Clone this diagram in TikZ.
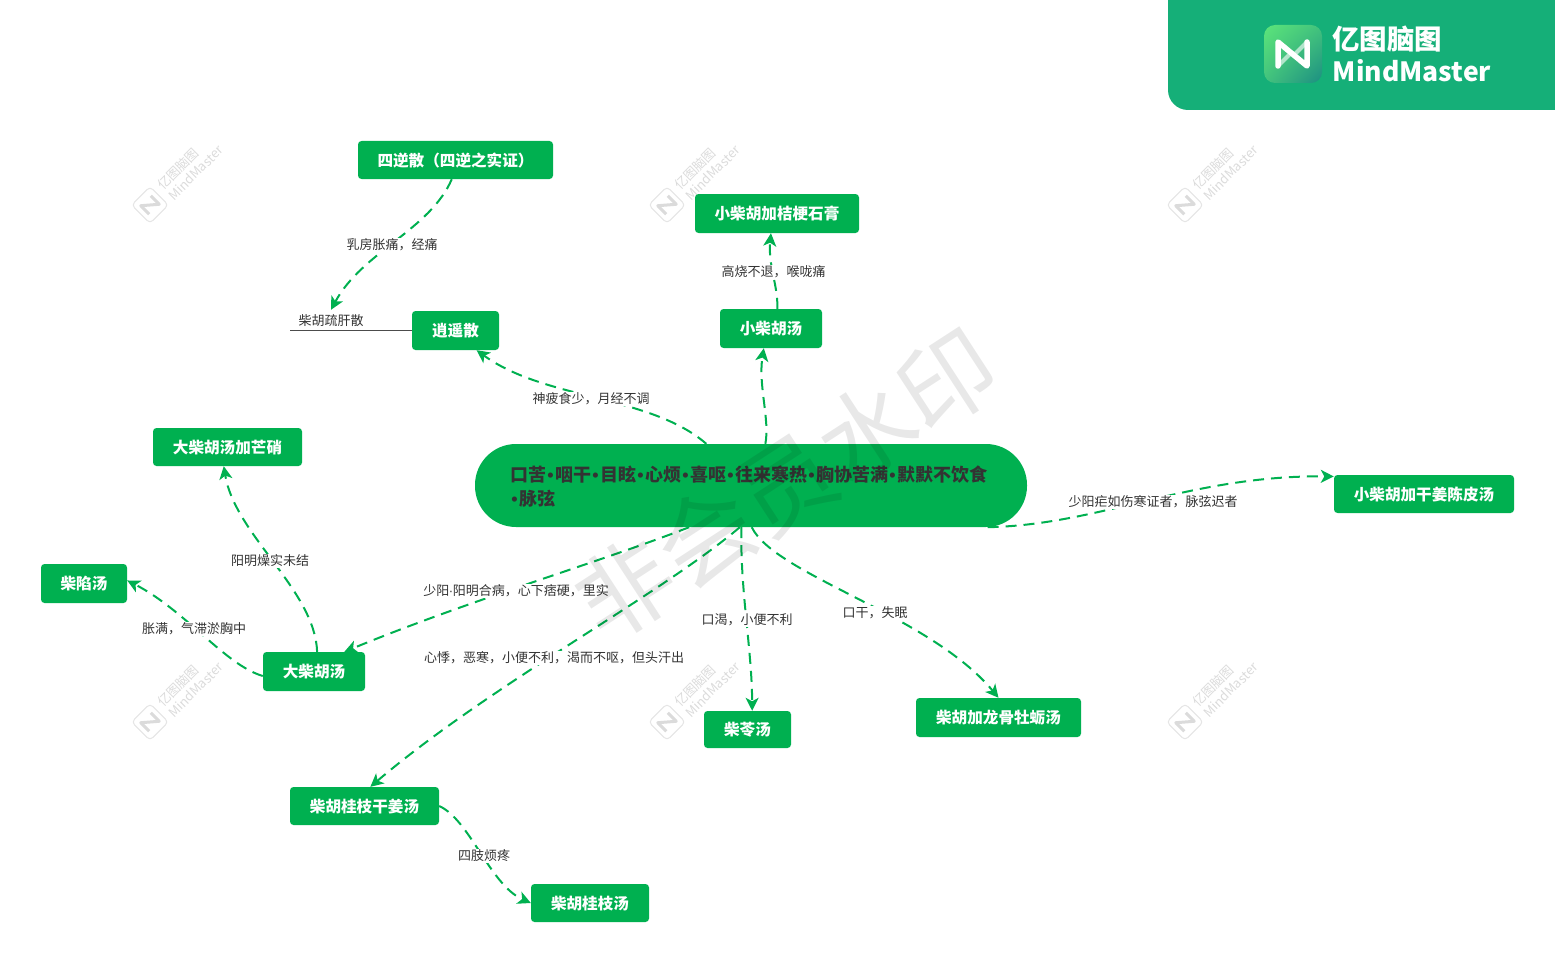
\documentclass[tikz,border=0pt]{standalone}
\usepackage{fontspec}
\setmainfont{Noto Sans CJK SC}
\newfontfamily\dotfont{Liberation Sans}
\usetikzlibrary{arrows.meta, positioning, shadings}
\definecolor{herbgreen}{HTML}{00B050}
\definecolor{panelgreen}{HTML}{15AF78}
\definecolor{notetext}{HTML}{333333}
\definecolor{logotop}{HTML}{5CE57A}
\definecolor{logobot}{HTML}{1B8E82}
\newcommand{\sepdot}{\makebox[9pt]{\dotfont\textbf{•}}}
\newcommand{\middot}{\makebox[3.5pt]{\dotfont ·}}
\tikzset{
    herb/.style={fill=herbgreen, text=white, rounded corners=3.5pt, font=\fontsize{15.6}{19}\selectfont\bfseries, inner sep=0pt, text height=12.5pt, text depth=0pt},
    note/.style={fill=white, text=notetext, font=\fontsize{13}{15}\selectfont, inner xsep=0pt, inner ysep=1pt, yshift=-1pt},
    link/.style={draw=herbgreen, line width=2pt, dash pattern=on 11pt off 7pt, -{Stealth[length=13pt,width=13pt,inset=3.5pt]}},
    markgray/.style={text=black!14, font=\fontsize{13}{15}\selectfont, inner sep=0pt},
}
\begin{document}
\begin{tikzpicture}[x=1pt, y=-1pt]
\useasboundingbox (0,0) rectangle (1555,955);

\foreach \mx/\my in {0/0, 517/0, 1035/0, 0/517, 517/517, 1035/517} {
    \begin{scope}[shift={(\mx,\my)}]
    \begin{scope}[shift={(150,205)}, rotate=45]
    \draw[black!10, line width=1pt, fill=white, rounded corners=4pt] (-13,-13) rectangle (13,13);
    \draw[black!14, line width=3pt, line join=round] (-7,6) -- (-7,-6) -- (7,6) -- (7,-6);
    \end{scope}
    \node[markgray, rotate=45] (cnmark\mx\my) at (178,169) {亿图脑图};
    \node[markgray, rotate=45] (enmark\mx\my) at (195.5,172.5) {MindMaster};
    \end{scope}
}

\node[fill=herbgreen, text=notetext, rounded corners=41pt, minimum width=552pt, minimum height=83pt,
    inner sep=0pt, text width=482pt, align=left, font=\fontsize{18}{24}\selectfont\bfseries] (root) at (751,485.5)
    {\rule{0pt}{18pt}口苦\sepdot 咽干\sepdot 目眩\sepdot 心烦\sepdot 喜呕\sepdot 往来寒热\sepdot 胸协苦满\sepdot 默默不饮食\\\sepdot 脉弦};

\node[herb, minimum width=195pt, minimum height=38pt] (sini) at (455.5,160) {四逆散（四逆之实证）};
\node[herb, minimum width=164pt, minimum height=39pt] (jiegeng) at (777,213.5) {小柴胡加桔梗石膏};
\node[herb, minimum width=102pt, minimum height=39pt] (xiaochai) at (771,328.5) {小柴胡汤};
\node[herb, minimum width=87pt, minimum height=39pt] (xiaoyao) at (455.5,330.5) {逍遥散};
\node[herb, minimum width=149pt, minimum height=38pt] (mangxiao) at (227.5,447) {大柴胡汤加芒硝};
\node[herb, minimum width=86pt, minimum height=39pt] (chaixian) at (84,583.5) {柴陷汤};
\node[herb, minimum width=102pt, minimum height=39pt] (dachai) at (314,671.5) {大柴胡汤};
\node[herb, minimum width=149pt, minimum height=38pt] (ganjiang) at (364.5,806) {柴胡桂枝干姜汤};
\node[herb, minimum width=118pt, minimum height=38pt] (guizhi) at (590,903) {柴胡桂枝汤};
\node[herb, minimum width=87pt, minimum height=37pt] (chailing) at (747.5,729.5) {柴苓汤};
\node[herb, minimum width=165pt, minimum height=39pt] (longgu) at (998.5,717.5) {柴胡加龙骨牡蛎汤};
\node[herb, minimum width=180pt, minimum height=38pt] (chenpi) at (1424,494) {小柴胡加干姜陈皮汤};

\node[text=notetext, font=\fontsize{13}{15}\selectfont, inner sep=0pt, minimum height=21pt] (shugan) at (331,320.5) {柴胡疏肝散};
\coordinate (shuganend) at (290,330.5);
\draw[black!70, line width=.8pt] (shuganend) -- (xiaoyao.west);

\draw[link] (sini.259.6) .. controls (430,230) and (362,252) .. (shugan.north);
\draw[link] (root.137.3) .. controls (650,395) and (545,400) .. (xiaoyao.317.8);
\draw[link] (root.71.4) .. controls (770,420) and (758,385) .. (xiaochai.250.3);
\draw[link] (xiaochai.72.9) .. controls (778,285) and (768,265) .. (jiegeng.253);
\draw[link] (root.-10) .. controls (1100,525) and (1190,475) .. (chenpi.169.3);
\draw[link] (root.214.2) .. controls (600,562) and (470,600) .. (dachai.33.9);
\draw[link] (root.255) .. controls (660,595) and (490,685) .. (ganjiang.73.9);
\draw[link] (root.257.8) .. controls (740,590) and (752,650) .. (chailing.76.3);
\draw[link] (root.271) .. controls (775,575) and (930,615) .. (longgu.north);
\draw[link] (dachai.81.3) .. controls (315,590) and (235,535) .. (mangxiao.259.6);
\draw[link] (dachai.185) .. controls (225,665) and (185,610) .. (chaixian.4.7);
\draw[link] (ganjiang.0.8) .. controls (470,820) and (490,885) .. (guizhi.west);

\node[note] (rufang) at (392,244) {乳房胀痛，经痛};
\node[note] (gaoshao) at (773.5,271) {高烧不退，喉咙痛};
\node[note] (shenpi) at (591,398) {神疲食少，月经不调};
\node[note] (shaoyang) at (1153,501) {少阳疟如伤寒证者，脉弦迟者};
\node[note] (yangming) at (270,560) {阳明燥实未结};
\node[note] (zhangman) at (194,628) {胀满，气滞淤胸中};
\node[note] (heb) at (516,590) {少阳\middot 阳明合病，心下痞硬，里实};
\node[note] (xinji) at (554,657) {心悸，恶寒，小便不利，渴而不呕，但头汗出};
\node[note] (kouke) at (747,619) {口渴，小便不利};
\node[note] (kougan) at (875,612) {口干，失眠};
\node[note] (sizhi) at (484,855) {四肢烦疼};

\fill[panelgreen, rounded corners=20pt] (1168,-40) rectangle (1600,110);
\fill[panelgreen] (1300,-5) rectangle (1560,110);
\shade[rounded corners=11pt, upper left=logotop, lower right=logobot, upper right=logotop!60!logobot, lower left=logotop!60!logobot]
    (1264,25) rectangle (1322,83);
\draw[white, line width=5.5pt, line join=round, line cap=round] (1278,66) -- (1278,42) -- (1307,66) -- (1307,42);
\draw[white, opacity=.6, line width=4pt, line cap=round] (1278,66) -- (1290,54) (1307,42) -- (1295,54);
\node[text=white, font=\fontsize{27.5}{30}\selectfont\bfseries, inner sep=0pt] (brandcn) at (1387,39) {亿图脑图};
\node[text=white, font=\fontsize{26.5}{30}\selectfont\bfseries, inner sep=0pt] (branden) at (1412,71) {MindMaster};

\node[text=black, opacity=.09, rotate=33, font=\fontsize{96}{110}\selectfont, inner sep=0pt] (bigmark) at (786,484) {非会员水印};
\end{tikzpicture}
\end{document}
